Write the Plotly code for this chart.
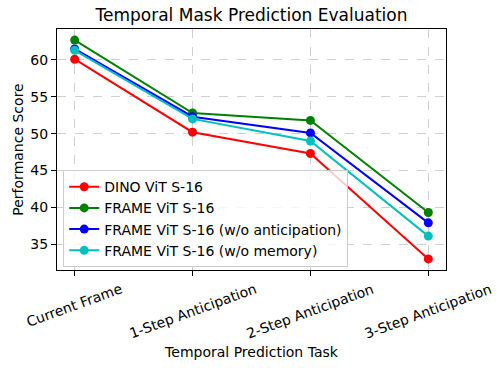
import plotly.graph_objects as go

tasks = ["Current Frame", "1-Step Anticipation", "2-Step Anticipation", "3-Step Anticipation"]
dino = [60.1, 50.2, 47.3, 33.0]
frame = [62.7, 52.8, 51.8, 39.3]
frame_no_antic = [61.5, 52.3, 50.1, 37.9]
frame_no_mem = [61.3, 52.0, 49.0, 36.1]

series = [
    ("DINO ViT S-16", dino, "#ff0000"),
    ("FRAME ViT S-16", frame, "#008000"),
    ("FRAME ViT S-16 (w/o anticipation)", frame_no_antic, "#0000ff"),
    ("FRAME ViT S-16 (w/o memory)", frame_no_mem, "#00bfbf"),
]

fig = go.Figure()
xs = list(range(len(tasks)))
for name, vals, col in series:
    fig.add_trace(go.Scatter(
        x=xs, y=vals, name=name, mode="lines+markers",
        line=dict(color=col, width=2),
        marker=dict(color=col, size=9),
    ))

font = "DejaVu Sans, sans-serif"
plot_h = 368 - 29 - 98

# rotated, centre-aligned category labels (matplotlib style)
for i, t in enumerate(tasks):
    fig.add_annotation(
        x=i, xref="x", y=-8 / plot_h, yref="paper",
        text=t, textangle=-20, showarrow=False,
        xanchor="center", yanchor="top",
        font=dict(family=font, size=14, color="black"),
    )

fig.update_layout(
    width=501, height=368,
    margin=dict(l=57, r=55, t=29, b=98),
    paper_bgcolor="white", plot_bgcolor="white",
    font=dict(family=font, size=14, color="black"),
    title=dict(text="Temporal Mask Prediction Evaluation", x=0.502, xanchor="center",
               y=0.958, yanchor="middle", font=dict(size=17, color="black")),
    showlegend=True,
    legend=dict(x=0.016, y=0.012, xanchor="left", yanchor="bottom",
                bgcolor="rgba(255,255,255,0.8)", bordercolor="#cccccc", borderwidth=1,
                font=dict(size=14), tracegroupgap=0, itemwidth=30),
)
fig.update_xaxes(
    range=[-0.15, 3.15], tickvals=xs, ticktext=tasks, showticklabels=False,
    automargin=False,
    showline=True, linecolor="black", linewidth=1, mirror=True,
    ticks="outside", ticklen=5, tickcolor="black",
    showgrid=True, gridcolor="rgba(176,176,176,0.6)", griddash="dash", gridwidth=1,
    zeroline=False,
    title=dict(text="Temporal Prediction Task", font=dict(size=14), standoff=72),
)
fig.update_yaxes(
    range=[31.5, 64.2], tickvals=[35, 40, 45, 50, 55, 60],
    automargin=False,
    showline=True, linecolor="black", linewidth=1, mirror=True,
    ticks="outside", ticklen=5, tickcolor="black",
    showgrid=True, gridcolor="rgba(176,176,176,0.6)", griddash="dash", gridwidth=1,
    zeroline=False,
    title=dict(text="Performance Score", font=dict(size=14), standoff=3),
    tickfont=dict(size=14),
)
fig.write_html("out.html", config={"displayModeBar": False},
               post_script="document.body.style.margin='0';")
